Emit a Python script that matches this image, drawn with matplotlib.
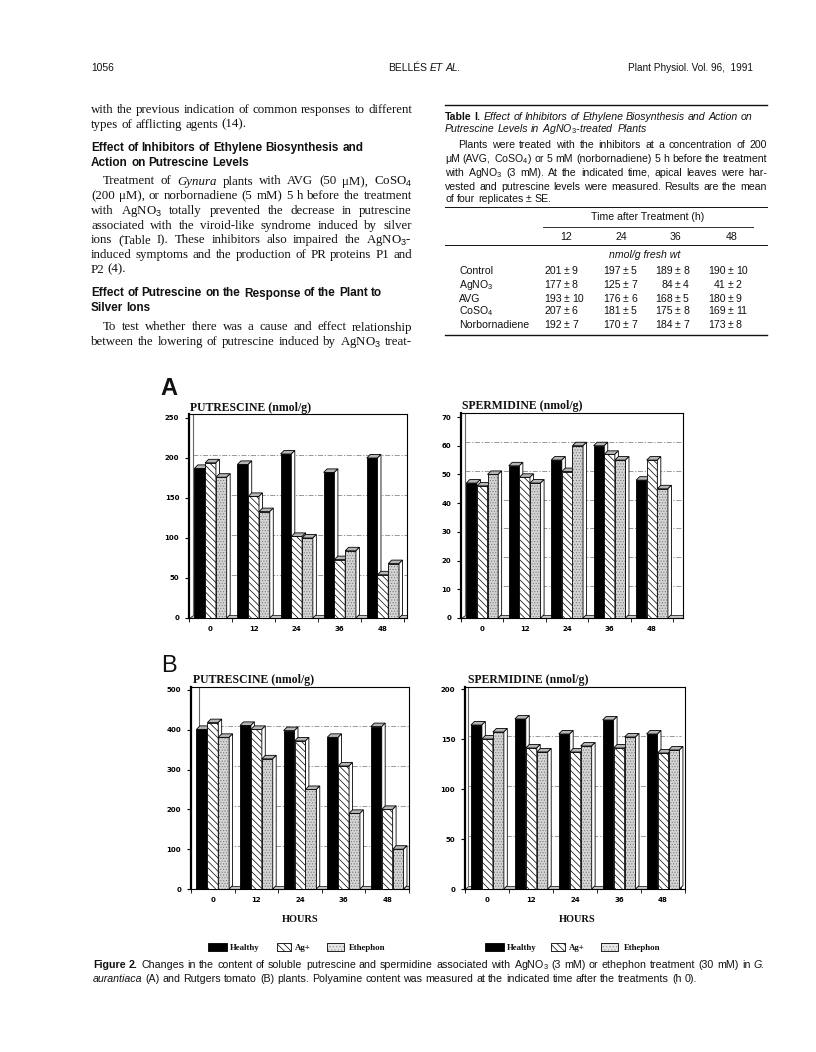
import matplotlib
matplotlib.use('Agg')
import matplotlib.pyplot as plt
from matplotlib.patches import Polygon, Rectangle
import numpy as np

# ---------------- data ----------------
hours = ['0', '12', '24', '36', '48']
series_names = ['Healthy', 'Ag+', 'Ethephon']

a_put_healthy = [187, 192, 205, 182, 200]
a_put_ag = [194, 152, 102, 73, 54]
a_put_eth = [176, 133, 100, 84, 68]

a_spd_healthy = [47, 53, 55, 60, 48]
a_spd_ag = [46, 49, 51, 57, 55]
a_spd_eth = [50, 47, 60, 55, 45]

b_put_healthy = [401, 411, 398, 381, 408]
b_put_ag = [418, 401, 372, 309, 200]
b_put_eth = [381, 327, 250, 190, 100]

b_spd_healthy = [164, 170, 155, 169, 155]
b_spd_ag = [150, 141, 137, 141, 136]
b_spd_eth = [157, 137, 143, 152, 139]

table_times = ['12', '24', '36', '48']
table_rows = ['Control', 'AgNO$_3$', 'AVG', 'CoSO$_4$', 'Norbornadiene']
control_vals = [(201, 9), (197, 5), (189, 8), (190, 10)]
agno3_vals = [(177, 8), (125, 7), (84, 4), (41, 2)]
avg_vals = [(193, 10), (176, 6), (168, 5), (180, 9)]
coso4_vals = [(207, 6), (181, 5), (175, 8), (169, 11)]
norb_vals = [(192, 7), (170, 7), (184, 7), (173, 8)]

# ---------------- setup ----------------
plt.rcParams['mathtext.fontset'] = 'custom'
plt.rcParams['mathtext.rm'] = 'Liberation Sans'
plt.rcParams['mathtext.it'] = 'Liberation Sans:italic'
plt.rcParams['mathtext.bf'] = 'Liberation Sans:bold'
plt.rcParams['hatch.linewidth'] = 0.5

SERIF = 'Liberation Serif'
SANS = 'Liberation Sans'
W, H = 816, 1052
fig = plt.figure(figsize=(W / 100, H / 100), dpi=100)
pg = fig.add_axes([0, 0, 1, 1])
pg.set_xlim(0, W)
pg.set_ylim(H, 0)
pg.axis('off')
R = fig.canvas.get_renderer()
INK = '#111111'


def parse(line):
    toks = []
    bold = False
    ital = False
    for w in line.split(' '):
        if w.startswith('**'):
            bold = True
            w = w[2:]
        elif w.startswith('*'):
            ital = True
            w = w[1:]
        wb, wi = bold, ital
        if w.endswith('**'):
            w = w[:-2]
            bold = False
        elif w.endswith('*'):
            w = w[:-1]
            ital = False
        toks.append((w, wb, wi))
    return toks


def put_line(line, x0, x1, yb, size, family, justify=False, weight=None):
    toks = parse(line)
    ts = []
    for w, b, i in toks:
        ts.append(pg.text(0, yb, w, fontsize=size, family=family,
                          fontweight=weight or ('bold' if b else 'normal'),
                          fontstyle='italic' if i else 'normal',
                          ha='left', va='baseline', color=INK))
    ws = [t.get_window_extent(R).width for t in ts]
    sp = size / 72 * 100 * (0.25 if family == SERIF else 0.278)
    if justify and len(ts) > 1:
        gap = (x1 - x0 - sum(ws)) / (len(ts) - 1)
    else:
        gap = sp
    x = x0
    for t, wd in zip(ts, ws):
        t.set_x(x)
        x += wd + gap


# ---------------- header ----------------
pg.text(91, 71, '1056', fontsize=7.4, family=SANS, color=INK, va='baseline')
put_line('BELLÉS *ET AL.*', 388, 480, 71, 7.4, SANS)
pg.text(753, 71, 'Plant Physiol. Vol. 96,  1991', fontsize=7.2, family=SANS,
        color=INK, va='baseline', ha='right')

# ---------------- left column ----------------
LX0, LX1 = 91, 412
BS = 9.3
body = [
    ('with the previous indication of common responses to different', 113, True, 0),
    ('types of afflicting agents (14).', 127.7, False, 0),
    ('Treatment of *Gynura* plants with AVG (50 μM), CoSO$_4$', 184.5, True, 12),
    ('(200 μM), or norbornadiene (5 mM) 5 h before the treatment', 199.2, True, 0),
    ('with AgNO$_3$ totally prevented the decrease in putrescine', 213.9, True, 0),
    ('associated with the viroid-like syndrome induced by silver', 228.6, True, 0),
    ('ions (Table I). These inhibitors also impaired the AgNO$_3$-', 243.3, True, 0),
    ('induced symptoms and the production of PR proteins P1 and', 258.0, True, 0),
    ('P2 (4).', 272.7, False, 0),
    ('To test whether there was a cause and effect relationship', 330.5, True, 12),
    ('between the lowering of putrescine induced by AgNO$_3$ treat-', 345.2, True, 0),
]
for txt, yb, just, ind in body:
    put_line(txt, LX0 + ind, LX1, yb, BS, SERIF, justify=just)

heads = [('Effect of Inhibitors of Ethylene Biosynthesis and', 151),
         ('Action on Putrescine Levels', 165.7),
         ('Effect of Putrescine on the Response of the Plant to', 296.5),
         ('Silver Ions', 311.2)]
for txt, yb in heads:
    put_line(txt, LX0, LX1, yb, 8.5, SANS, weight='bold')

# ---------------- table ----------------
TX0, TX1 = 445, 767
TS = 7.6
pg.plot([TX0, TX1], [105, 105], color=INK, lw=1.0)
put_line('**Table I.** *Effect of Inhibitors of Ethylene Biosynthesis and Action on*',
         TX0, TX1, 119.5, TS, SANS)
put_line('*Putrescine Levels in AgNO$_3$-treated Plants*', TX0, TX1, 131.5, TS, SANS)
tpara = [
    ('Plants were treated with the inhibitors at a concentration of 200', 147.5, True, 13),
    ('μM (AVG, CoSO$_4$) or 5 mM (norbornadiene) 5 h before the treatment', 161.5, True, 0),
    ('with AgNO$_3$ (3 mM). At the indicated time, apical leaves were har-', 175.5, True, 0),
    ('vested and putrescine levels were measured. Results are the mean', 189.5, True, 0),
    ('of four replicates ± SE.', 202.5, False, 0),
]
for txt, yb, just, ind in tpara:
    put_line(txt, TX0 + ind, TX1, yb, TS, SANS, justify=just)
pg.plot([TX0, TX1], [207, 207], color=INK, lw=0.7)
pg.text(648, 220.5, 'Time after Treatment (h)', fontsize=TS, family=SANS,
        ha='center', va='baseline', color=INK)
pg.plot([543, 753], [227, 227], color=INK, lw=0.6)
col_c = [566, 621, 675, 732]
pm_x = [567, 626, 678, 731]
for c, lab in zip(col_c, table_times):
    pg.text(c, 240.5, lab, fontsize=TS, family=SANS, ha='center', va='baseline', color=INK)
pg.plot([TX0, TX1], [245, 245], color=INK, lw=0.7)
pg.text(645, 258.5, 'nmol/g fresh wt', fontsize=TS, family=SANS, style='italic',
        ha='center', va='baseline', color=INK)
row_y = [274.5, 287.5, 301.5, 314.5, 327.5]
all_rows = [control_vals, agno3_vals, avg_vals, coso4_vals, norb_vals]
for name, yb, vals in zip(table_rows, row_y, all_rows):
    pg.text(459, yb, name, fontsize=TS, family=SANS, ha='left', va='baseline', color=INK)
    for px, (m, s) in zip(pm_x, vals):
        pg.text(px, yb, '±', fontsize=TS, family=SANS, ha='center', va='baseline', color=INK)
        pg.text(px - 5, yb, str(m), fontsize=TS, family=SANS, ha='right', va='baseline', color=INK)
        pg.text(px + 5, yb, str(s), fontsize=TS, family=SANS, ha='left', va='baseline', color=INK)
pg.plot([TX0, TX1], [335, 335], color=INK, lw=1.0)

# ---------------- charts ----------------
BW = 0.25


def panel(box, ytop, yticks, grid, xlim, title, tx, ty, data):
    x0, y0, x1, y1 = box
    ax = fig.add_axes([x0 / W, 1 - y1 / H, (x1 - x0) / W, (y1 - y0) / H])
    ax.set_xlim(*xlim)
    ax.set_ylim(0, ytop)
    ax.set_facecolor('white')
    dpx = 3.5
    dx = dpx / (x1 - x0) * (xlim[1] - xlim[0])
    dy = dpx / (y1 - y0) * ytop
    # floor and wall
    ax.add_patch(Polygon([(xlim[0], 0), (xlim[1], 0), (xlim[1], dy), (xlim[0] + dx, dy)],
                         closed=True, fc='#c4c4c4', ec='black', lw=0.5, zorder=1))
    ax.plot([xlim[0] + dx] * 2, [dy, ytop], color='#666666', lw=0.8, zorder=1)
    for g in grid:
        ax.plot([xlim[0] + dx, xlim[1]], [g + dy, g + dy], color='#888888', lw=0.6,
                ls=(0, (6, 2, 1.5, 2)), zorder=1)
    x = np.arange(len(hours))
    for k, vals in enumerate(data):
        pos = x + (k - 1) * BW
        z = 2 + k
        if k == 0:
            bars = ax.bar(pos, vals, BW, color='black', edgecolor='black', lw=0.6, zorder=z)
        elif k == 1:
            bars = ax.bar(pos, vals, BW, color='white', edgecolor='black',
                          hatch='\\\\\\\\\\', lw=0.6, zorder=z)
        else:
            ax.bar(pos, vals, BW, color='#d4d4d4', edgecolor='#7a7a7a', hatch='......',
                   lw=0, zorder=z)
            bars = ax.bar(pos, vals, BW, fill=False, edgecolor='black', lw=0.6, zorder=z + 0.01)
        for b in bars:
            bx, bw, bh = b.get_x(), b.get_width(), b.get_height()
            ax.add_patch(Polygon([(bx, bh), (bx + dx, bh + dy), (bx + bw + dx, bh + dy), (bx + bw, bh)],
                                 closed=True, fc='#b5b5b5', ec='black', lw=0.6, zorder=z + 0.02))
            ax.add_patch(Polygon([(bx + bw, 0), (bx + bw + dx, dy), (bx + bw + dx, bh + dy), (bx + bw, bh)],
                                 closed=True, fc='white', ec='black', lw=0.6, zorder=z + 0.02))
    ax.set_yticks(yticks)
    ax.set_yticklabels([str(v) for v in yticks])
    ax.set_xticks(x)
    ax.set_xticklabels(hours)
    ax.set_xticks(list(x - 0.5) + [x[-1] + 0.5], minor=True)
    ax.tick_params(axis='y', length=3, width=0.8, pad=4, labelsize=5, direction='out')
    ax.tick_params(axis='x', which='major', length=0, pad=6, labelsize=5)
    ax.tick_params(axis='x', which='minor', length=3, width=0.6)
    for lab in ax.get_xticklabels() + ax.get_yticklabels():
        lab.set_fontweight('bold')
        lab.set_family('DejaVu Sans')
    ax.spines['left'].set_linewidth(1.6)
    for s in ['top', 'right', 'bottom']:
        ax.spines[s].set_linewidth(0.8)
    pg.text(tx, ty, title, fontsize=8.5, family=SERIF, fontweight='bold',
            ha='left', va='baseline', color=INK)
    return ax


panel((189, 414, 407, 618), 255, [0, 50, 100, 150, 200, 250], [50, 100, 150, 200],
      (-0.49, 4.56), 'PUTRESCINE (nmol/g)', 190, 410.5,
      [a_put_healthy, a_put_ag, a_put_eth])
panel((461, 413, 683, 618), 71.4, [0, 10, 20, 30, 40, 50, 60, 70], [10, 20, 30, 40, 50, 60],
      (-0.49, 4.73), 'SPERMIDINE (nmol/g)', 462, 409.5,
      [a_spd_healthy, a_spd_ag, a_spd_eth])
panel((191, 687, 409, 889), 507.5, [0, 100, 200, 300, 400, 500], [100, 200, 300, 400],
      (-0.4, 4.5), 'PUTRESCINE (nmol/g)', 193, 682.5,
      [b_put_healthy, b_put_ag, b_put_eth])
panel((465, 687, 685, 889), 202, [0, 50, 100, 150, 200], [50, 100, 150],
      (-0.51, 4.4), 'SPERMIDINE (nmol/g)', 468, 682.5,
      [b_spd_healthy, b_spd_ag, b_spd_eth])

pg.text(160, 395, 'A', fontsize=17, family=SANS, fontweight='bold', va='baseline', color=INK)
pg.text(161, 672, 'B', fontsize=17, family=SANS, va='baseline', color=INK)

for cx in (300, 577):
    pg.text(cx, 922.5, 'HOURS', fontsize=7.5, family=SERIF, fontweight='bold',
            ha='center', va='baseline', color=INK)


def legend(x_sw, x_tx):
    y = 943
    pg.add_patch(Rectangle((x_sw[0], y), 19, 8, fc='black', ec='black', lw=0.6))
    pg.add_patch(Rectangle((x_sw[1], y), 14, 8, fc='white', ec='black', lw=0.6,
                           hatch='\\\\\\\\\\'))
    pg.add_patch(Rectangle((x_sw[2], y), 17, 8, fc='#e6e6e6', ec='#999999', lw=0,
                           hatch='.....'))
    pg.add_patch(Rectangle((x_sw[2], y), 17, 8, fill=False, ec='black', lw=0.6))
    for xt, nm in zip(x_tx, series_names):
        pg.text(xt, y + 7, nm, fontsize=6.3, family=SERIF, fontweight='bold',
                ha='left', va='baseline', color=INK)


legend([208, 277, 327], [230, 295, 349])
legend([485, 551, 601], [507, 569, 624])

# ---------------- caption ----------------
CS = 7.65
put_line('**Figure 2.** Changes in the content of soluble putrescine and spermidine associated with '
         'AgNO$_3$ (3 mM) or ethephon treatment (30 mM) in *G.*', 93, 765, 968.5, CS, SANS, justify=True)
put_line('*aurantiaca* (A) and Rutgers tomato (B) plants. Polyamine content was measured at the '
         'indicated time after the treatments (h 0).', 93, 765, 982.5, CS, SANS)

fig.savefig('out.png', dpi=100)
